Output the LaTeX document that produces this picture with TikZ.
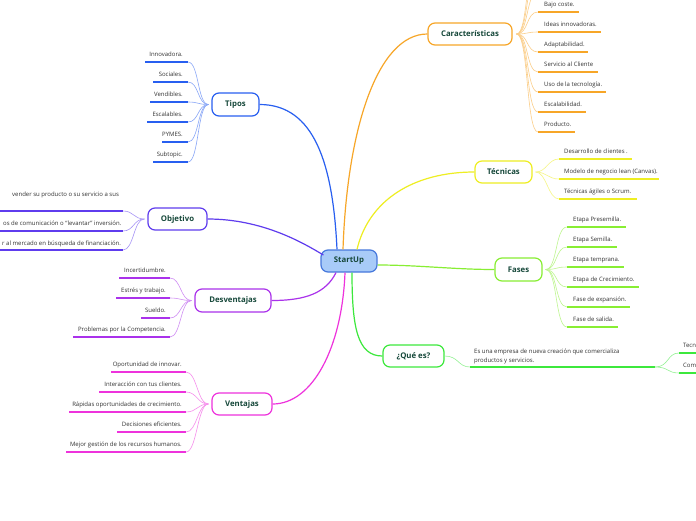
\documentclass[tikz,border=0pt]{standalone}
\usepackage{fontspec}
\setmainfont{Open Sans}
\usetikzlibrary{calc}
\definecolor{cOr}{RGB}{247,166,40}
\definecolor{cYe}{RGB}{238,238,34}
\definecolor{cFa}{RGB}{136,238,51}
\definecolor{cQu}{RGB}{60,232,60}
\definecolor{cTi}{RGB}{40,95,240}
\definecolor{cOb}{RGB}{95,60,238}
\definecolor{cDe}{RGB}{170,50,235}
\definecolor{cVe}{RGB}{238,50,220}
\definecolor{tdark}{RGB}{22,72,58}
\definecolor{tleaf}{RGB}{50,50,50}
\definecolor{sfill}{RGB}{168,203,248}
\definecolor{sdraw}{RGB}{70,120,220}
\tikzset{
 hub/.style={draw=#1, line width=1.2pt, rounded corners=7pt, fill=white, font=\bfseries\fontsize{7.8}{9}\selectfont, text=tdark, inner sep=0pt, minimum height=22pt},
 mainedge/.style={draw=#1, line width=1.2pt},
 twig/.style={draw=#1!55, line width=0.6pt},
 uline/.style={draw=#1, line width=2pt},
 leaf/.style={font=\fontsize{6}{9}\selectfont, text=tleaf, inner sep=0pt},
}
\begin{document}
\begin{tikzpicture}[x=1pt,y=-1pt]
\useasboundingbox (0,0) rectangle (696,520);
\clip (0,0) rectangle (696,520);
\fill[white] (0,0) rectangle (696,520);

% hubs
\node[hub=sdraw, fill=sfill, minimum width=56pt] (s) at (349,261) {StartUp};
\node[hub=cOr, minimum width=84pt] (car) at (470,34) {Características};
\node[hub=cYe, minimum width=57pt] (tec) at (503.5,172) {Técnicas};
\node[hub=cFa, minimum width=47pt, minimum height=23pt] (fas) at (518.5,269.5) {Fases};
\node[hub=cQu, minimum width=61pt] (que) at (413.5,356) {¿Qué es?};
\node[hub=cTi, minimum width=47pt, minimum height=23pt] (tip) at (235.5,104.5) {Tipos};
\node[hub=cOb, minimum width=59pt] (obj) at (177.5,219) {Objetivo};
\node[hub=cDe, minimum width=76pt, minimum height=23pt] (des) at (233,300.5) {Desventajas};
\node[hub=cVe, minimum width=60pt] (ven) at (242,404) {Ventajas};

% main edges
\draw[mainedge=cOr] ($(s.north)+(-6,0)$) .. controls +(4,-120) and +(-50,0) .. (car.west);
\draw[mainedge=cYe] ($(s.north)+(8,0)$) .. controls +(12,-50) and +(-60,0) .. (tec.west);
\draw[mainedge=cFa] ($(s.east)+(0,4)$) .. controls +(40,0) and +(-40,0) .. (fas.west);
\draw[mainedge=cQu] ($(s.south)+(3,0)$) .. controls +(0,55) and +(-25,0) .. (que.west);
\draw[mainedge=cTi] ($(s.north)+(-12,0)$) .. controls +(-4,-85) and +(55,0) .. (tip.east);
\draw[mainedge=cOb] (obj.east) .. controls +(55,0) and +(-20,-12) .. ($(s.west)+(3,-6)$);
\draw[mainedge=cDe] ($(s.south)+(-13,0)$) .. controls +(-10,20) and +(35,0) .. (des.east);
\draw[mainedge=cVe] ($(s.south)+(-4,0)$) .. controls +(-3,75) and +(40,0) .. (ven.east);

% Caracteristicas (items above the top edge)
\foreach \y in {-8,-28,-48}{
  \draw[twig=cOr] ($(car.east)+(4,0)$) .. controls +(12,0) and +(-12,0) .. (538,\y);
}
\foreach \y/\e/\t [count=\i] in {12/579/{Bajo coste.},32/601/{Ideas innovadoras.},52/588/{Adaptabilidad.},72/598/{Servicio al Cliente},92/606/{Uso de la tecnología.},112/586/{Escalabilidad.},132/575/{Producto.}}{
  \coordinate (ca\i-l) at (538,\y);
  \coordinate (ca\i-r) at (\e,\y);
  \node[leaf, anchor=base west] (ca\i-t) at (544,\y-5.5) {\t};
  \draw[twig=cOr] ($(car.east)+(4,0)$) .. controls +(12,0) and +(-12,0) .. (ca\i-l);
  \draw[uline=cOr] (ca\i-l) -- (ca\i-r);
}

% Tecnicas
\foreach \y/\e/\t [count=\i] in {159/632/{Desarrollo de clientes .},179/659/{Modelo de negocio lean (Canvas).},199/637/{Técnicas ágiles o Scrum.}}{
  \coordinate (te\i-l) at (559,\y);
  \coordinate (te\i-r) at (\e,\y);
  \node[leaf, anchor=base west] (te\i-t) at (564,\y-5.5) {\t};
  \draw[twig=cYe] ($(tec.east)+(3,0)$) .. controls +(11,0) and +(-11,0) .. (te\i-l);
  \draw[uline=cYe] (te\i-l) -- (te\i-r);
}

% Fases
\foreach \y/\e/\t [count=\i] in {227/626/{Etapa Presemilla.},247/617/{Etapa Semilla.},267/624/{Etapa temprana.},287/639/{Etapa de Crecimiento.},307/630/{Fase de expansión.},327/618/{Fase de salida.}}{
  \coordinate (fa\i-l) at (567,\y);
  \coordinate (fa\i-r) at (\e,\y);
  \node[leaf, anchor=base west] (fa\i-t) at (573,\y-5.5) {\t};
  \draw[twig=cFa] ($(fas.east)+(3,0)$) .. controls +(12,0) and +(-12,0) .. (fa\i-l);
  \draw[uline=cFa] (fa\i-l) -- (fa\i-r);
}

% Que es
\coordinate (q-l) at (470,367);
\coordinate (q-r) at (655,367);
\node[leaf, anchor=base west, align=left] (q-t) at (474,362) {Es una empresa de nueva creación que comercializa\\productos y servicios.};
\draw[twig=cQu] (que.east) .. controls +(14,0) and +(-12,0) .. (q-l);
\draw[uline=cQu] (q-l) -- (q-r);
\foreach \y/\t [count=\i] in {353/{Tecn},373/{Com}}{
  \coordinate (qq\i-l) at (679,\y);
  \coordinate (qq\i-r) at (720,\y);
  \node[leaf, anchor=base west] (qq\i-t) at (683,\y-5.5) {\t};
  \draw[twig=cQu] (q-r) .. controls +(14,0) and +(-12,0) .. (qq\i-l);
  \draw[uline=cQu] (qq\i-l) -- (qq\i-r);
}

% Tipos
\foreach \y/\e/\t [count=\i] in {62/145/{Innovadora.},82/153/{Sociales.},102/150/{Vendibles.},122/147/{Escalables.},142/162/{PYMES.},162/153/{Subtopic.}}{
  \coordinate (ti\i-r) at (188,\y);
  \coordinate (ti\i-l) at (\e,\y);
  \node[leaf, anchor=base east] (ti\i-t) at (183,\y-5.5) {\t};
  \draw[twig=cTi] ($(tip.west)+(-3,0)$) .. controls +(-11,0) and +(11,0) .. (ti\i-r);
  \draw[uline=cTi] (ti\i-l) -- (ti\i-r);
}

% Objetivo
\foreach \y/\bx/\by/\t [count=\i] in {211/12/196.5/{vender su producto o su servicio a sus},231/3/225.5/{os de comunicación o ``levantar'' inversión.},250/2/245/{r al mercado en búsqueda de financiación.}}{
  \coordinate (ob\i-r) at (123,\y);
  \coordinate (ob\i-l) at (-10,\y);
  \node[leaf, anchor=base west] (ob\i-t) at (\bx,\by) {\t};
  \draw[twig=cOb] ($(obj.west)+(-3,0)$) .. controls +(-11,0) and +(11,0) .. (ob\i-r);
  \draw[uline=cOb] (ob\i-l) -- (ob\i-r);
}

% Desventajas
\foreach \y/\e/\t [count=\i] in {278/119/{Incertidumbre.},298/116/{Estrés y trabajo.},318/141/{Sueldo.},337/73/{Problemas por la Competencia.}}{
  \coordinate (de\i-r) at (170,\y);
  \coordinate (de\i-l) at (\e,\y);
  \node[leaf, anchor=base east] (de\i-t) at (166,\y-5.5) {\t};
  \draw[twig=cDe] ($(des.west)+(-3,0)$) .. controls +(-11,0) and +(11,0) .. (de\i-r);
  \draw[uline=cDe] (de\i-l) -- (de\i-r);
}

% Ventajas
\foreach \y/\e/\t [count=\i] in {372/111/{Oportunidad de innovar.},392/99/{Interacción con tus clientes.},412/69/{Rápidas oportunidades de crecimiento.},432/117/{Decisiones eficientes.},452/66/{Mejor gestión de los recursos humanos.}}{
  \coordinate (ve\i-r) at (186,\y);
  \coordinate (ve\i-l) at (\e,\y);
  \node[leaf, anchor=base east] (ve\i-t) at (182,\y-5.5) {\t};
  \draw[twig=cVe] ($(ven.west)+(-3,0)$) .. controls +(-11,0) and +(11,0) .. (ve\i-r);
  \draw[uline=cVe] (ve\i-l) -- (ve\i-r);
}
\end{tikzpicture}
\end{document}
